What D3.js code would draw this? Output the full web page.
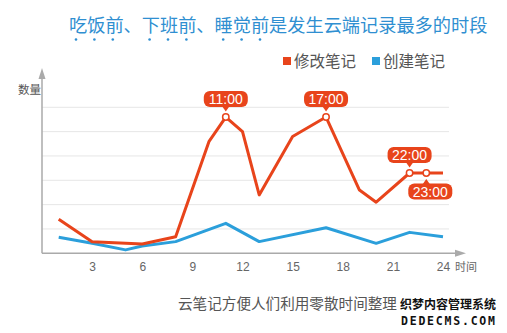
<!DOCTYPE html>
<html><head><meta charset="utf-8">
<script src="https://cdn.jsdelivr.net/npm/d3@7"></script>
<style>
html,body{margin:0;padding:0;background:#fff;}
svg{display:block;font-family:"Noto Sans CJK SC","Noto Sans",sans-serif;}
</style></head>
<body>
<svg id="chart" width="507" height="333"></svg>
<script>
// ---- data ----
const editHours   = [1, 3, 6, 8, 10, 11, 12, 13, 15, 17, 19, 20, 22, 23, 24];
const editValues  = [14, 4.7, 3.8, 6.8, 46, 56, 50, 24, 48, 56, 26, 21, 33, 33, 33];
const createHours = [1, 3, 5, 6, 8, 11, 13, 17, 20, 22, 24];
const createValues= [6.6, 4.1, 1.4, 3.0, 4.8, 12.3, 4.8, 10.5, 4.1, 8.6, 6.8];
const xTicks      = [3, 6, 9, 12, 15, 18, 21, 24];
const gridValues  = [10, 20, 30, 40, 50, 60];
const calloutHours  = [11, 17, 22, 23];
const calloutLabels = ["11:00", "17:00", "22:00", "23:00"];
const calloutSides  = ["up", "up", "up", "down"];
const seriesNames = ["修改笔记", "创建笔记"];
const titleText = "吃饭前、下班前、睡觉前是发生云端记录最多的时段";
const captionText = "云笔记方便人们利用零散时间整理";

const RED = "#e8441b", BLUE = "#2b9fdb";
const svg = d3.select("#chart");
const x = d3.scaleLinear().domain([0, 24]).range([42, 443]);
const y = d3.scaleLinear().domain([0, 60]).range([253.3, 107.3]);

// title
svg.append("text").attr("x", 69).attr("y", 32).attr("fill", "#2f8fd1")
  .attr("font-size", 18.2).text(titleText);
// emphasis dots under 吃饭前 下班前 睡觉前
const dotChars = [0,1,2,4,5,6,8,9,10];
svg.selectAll("circle.emph").data(dotChars).join("circle")
  .attr("cx", d => 76 + d * 18.4).attr("cy", 39.5).attr("r", 1.3).attr("fill", "#2f8fd1");

// legend
const legend = svg.append("g");
[[283, RED, seriesNames[0]], [372, BLUE, seriesNames[1]]].forEach(([lx, c, t]) => {
  legend.append("rect").attr("x", lx).attr("y", 57).attr("width", 8).attr("height", 8).attr("fill", c);
  legend.append("text").attr("x", lx + 11).attr("y", 67).attr("font-size", 15.5).attr("fill", "#555").text(t);
});

// grid
svg.selectAll("line.grid").data(gridValues).join("line")
  .attr("x1", x(0)).attr("x2", 449).attr("y1", d => y(d)).attr("y2", d => y(d))
  .attr("stroke", "#e6e6e6").attr("stroke-width", 1);

// axes
const axisColor = "#aaa";
svg.append("line").attr("x1", x(0)).attr("x2", x(0)).attr("y1", y(0)).attr("y2", 76)
  .attr("stroke", axisColor).attr("stroke-width", 1.5);
svg.append("path").attr("d", `M${x(0)-3.5},79 L${x(0)},68 L${x(0)+3.5},79 Z`).attr("fill", axisColor);
svg.append("line").attr("x1", x(0)).attr("x2", 458).attr("y1", y(0)).attr("y2", y(0))
  .attr("stroke", axisColor).attr("stroke-width", 1.5);
svg.append("path").attr("d", `M455,${y(0)-3.5} L466,${y(0)} L455,${y(0)+3.5} Z`).attr("fill", axisColor);

const xAxis = d3.axisBottom(x).tickValues(xTicks).tickSize(0).tickPadding(0);
const gx = svg.append("g").attr("transform", `translate(0,${y(0)+18})`).call(xAxis);
gx.select(".domain").remove();
gx.selectAll("text").attr("font-size", 12).attr("fill", "#666")
  .attr("font-family", "'Liberation Sans',Arial,sans-serif").attr("dy", 0);
svg.append("text").attr("x", 455).attr("y", 271).attr("font-size", 11).attr("fill", "#666").text("时间");
svg.append("text").attr("x", 18).attr("y", 94).attr("font-size", 11.5).attr("fill", "#555").text("数量");

// lines
const line = d3.line().x(d => x(d[0])).y(d => y(d[1]));
svg.append("path").datum(d3.zip(createHours, createValues)).attr("d", line)
  .attr("fill", "none").attr("stroke", BLUE).attr("stroke-width", 3).attr("stroke-linejoin", "round");
svg.append("path").datum(d3.zip(editHours, editValues)).attr("d", line)
  .attr("fill", "none").attr("stroke", RED).attr("stroke-width", 3).attr("stroke-linejoin", "round");

// callouts
calloutHours.forEach((h, i) => {
  const v = editValues[editHours.indexOf(h)];
  const cx = x(h), cy = y(v);
  const up = calloutSides[i] === "up";
  const w = 44, hgt = 16;
  const bx = up ? cx - w / 2 : cx - 18;
  const by = up ? cy - 26 : cy + 10.5;
  const g = svg.append("g");
  g.append("rect").attr("x", bx).attr("y", by).attr("width", w).attr("height", hgt)
    .attr("rx", 6).attr("fill", RED);
  if (up) {
    g.append("path").attr("d", `M${cx-3.5},${by+hgt-0.5} L${cx},${by+hgt+4.5} L${cx+3.5},${by+hgt-0.5} Z`).attr("fill", RED);
  } else {
    g.append("path").attr("d", `M${cx-3.5},${by+0.5} L${cx},${by-4.5} L${cx+3.5},${by+0.5} Z`).attr("fill", RED);
  }
  g.append("text").attr("x", bx + w / 2).attr("y", by + 13).attr("text-anchor", "middle")
    .attr("font-size", 14).attr("fill", "#fff").attr("font-family", "'Liberation Sans',Arial,sans-serif")
    .text(calloutLabels[i]);
  g.append("circle").attr("cx", cx).attr("cy", cy).attr("r", 3.2)
    .attr("fill", "#fff").attr("stroke", RED).attr("stroke-width", 1.5);
});

// caption
svg.append("text").attr("x", 178).attr("y", 309).attr("font-size", 14.6).attr("fill", "#555").text(captionText);

// watermark overlay
svg.append("rect").attr("x", 399).attr("y", 293).attr("width", 101).attr("height", 34).attr("fill", "#fff");
svg.append("text").attr("x", 448).attr("y", 309).attr("text-anchor", "middle").attr("font-size", 12)
  .attr("font-weight", "bold").attr("fill", "#111")
  .text("织梦内容管理系统");
svg.append("text").attr("x", 448).attr("y", 325).attr("text-anchor", "middle").attr("font-size", 11.5)
  .attr("font-weight", "bold").attr("fill", "#111").attr("font-family", "'DejaVu Sans Mono',monospace")
  .attr("textLength", 94).text("DEDECMS.COM");
</script>
</body></html>
